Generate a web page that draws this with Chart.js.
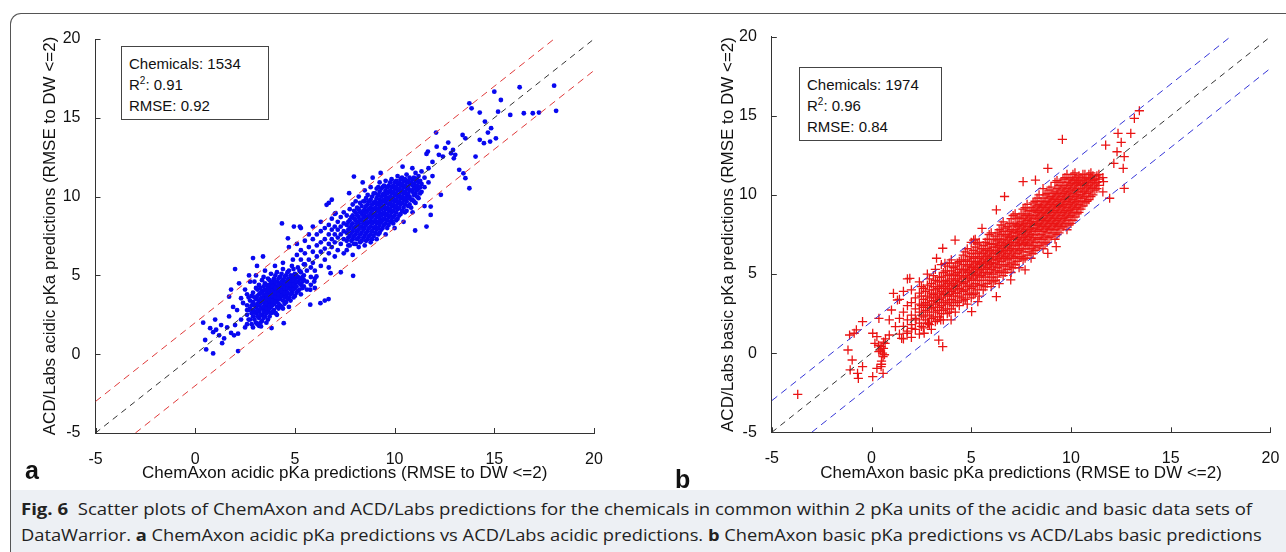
<!DOCTYPE html>
<html>
<head>
<meta charset="utf-8">
<script src="https://cdn.jsdelivr.net/npm/chart.js@4.4.1/dist/chart.umd.min.js"></script>
<style>
  html, body { margin: 0; padding: 0; background: #fff; }
  body { width: 1286px; height: 552px; position: relative; overflow: hidden; font-family: "Liberation Sans", Arial, sans-serif; color: #111; }
  .frame { position: absolute; left: 10px; top: 13px; width: 1300px; height: 600px; border-left: 1px solid #555; border-top: 1px solid #555; border-top-left-radius: 11px; }
  .capbg { position: absolute; left: 11px; top: 490px; right: 0; bottom: 0; background: #edf0f4; }
  .plot { position: absolute; top: 0; }
  .stat { position: absolute; border: 1px solid #444; background: #fff; font-size: 15px; line-height: 21px; padding: 6px 0 0 7px; box-sizing: border-box; }
  .stat sup { font-size: 10px; line-height: 0; vertical-align: 6px; }
  .panel { position: absolute; font-weight: bold; font-size: 25px; line-height: 1; }
  .cap { position: absolute; left: 21px; white-space: nowrap; font-family: "Open Sans", "Noto Sans", sans-serif; font-size: 16px; transform-origin: 0 0; color: #222; }
</style>
</head>
<body>
<div class="frame"></div>
<div class="capbg"></div>
<div class="plot" style="left:0"><canvas id="acid" width="640" height="488"></canvas></div>
<div class="plot" style="left:640px"><canvas id="basic" width="646" height="488"></canvas></div>
<div class="stat" style="left:121px;top:46px;width:148px;height:74px">Chemicals: 1534<br>R<sup>2</sup>: 0.91<br>RMSE: 0.92</div>
<div class="stat" style="left:799px;top:67px;width:143px;height:74px">Chemicals: 1974<br>R<sup>2</sup>: 0.96<br>RMSE: 0.84</div>
<div class="panel" style="left:25px;top:458px">a</div>
<div class="panel" style="left:675px;top:467px">b</div>
<div class="cap" style="top:498px" data-w="1231"><b>Fig. 6</b>&nbsp; Scatter plots of ChemAxon and ACD/Labs predictions for the chemicals in common within 2 pKa units of the acidic and basic data sets of</div>
<div class="cap" style="top:524px" data-w="1241">DataWarrior. <b>a</b> ChemAxon acidic pKa predictions vs ACD/Labs acidic predictions. <b>b</b> ChemAxon basic pKa predictions vs ACD/Labs basic predictions</div>
<script>
// axis range / ticks
const axisMin = -5, axisMax = 20, tickStep = 5;

// reference lines: identity and +/-2 pKa units
const identityLine = [[-5, -5], [20, 20]];
const upperLine = [[-5, -3], [18, 20]];
const lowerLine = [[-3, -5], [20, 18]];

// ---- acidic set (a): points ----
const acidLow = [
  [0.4,2.0],[0.5,0.9],[0.55,0.3],[0.9,0.05],[0.75,1.65],[1.05,1.55],[1.3,1.85],[1.35,0.7],[1.45,1.0],
  [1.7,2.4],[1.8,1.35],[2.0,1.85],[2.1,2.8],[2.15,1.3],[1.95,1.2],[2.0,5.4],[1.8,4.1],[2.2,4.5],
  [2.3,3.55],[2.5,4.1],[2.4,3.25],[2.6,2.8],[2.15,0.2],[1.7,3.65],[1.9,3.0],[1.2,1.2],[1.6,1.7],
  [0.9,1.4],[2.3,2.2],[2.5,1.7],[1.0,2.2],[3.3,1.76],[3.83,1.66],[4.44,1.97],[4.03,2.61],
  [2.9,6.1],[3.4,6.2],[3.1,5.6],[3.5,5.3],[2.7,5.0],[4.0,5.6],[4.4,5.8]
];
// columns: first value is x, the rest are y values at that x
const acidCols = [
  [2.6,1.9,2.5,3.1,3.8],[2.75,2.2,2.9,3.4,4.6],[2.9,1.7,2.4,2.8,3.3,3.9],[3.05,2.0,2.6,3.0,3.5,4.2,5.0],
  [3.2,1.8,2.3,2.7,3.1,3.4,3.8,4.4],[3.35,2.1,2.5,2.9,3.3,3.6,4.0,4.7],[3.5,2.4,2.8,3.1,3.4,3.7,4.1,4.5],
  [3.65,2.2,2.7,3.0,3.3,3.6,3.9,4.2,4.8],[3.8,2.6,3.0,3.3,3.6,3.9,4.2,4.5,5.1],[3.95,2.8,3.2,3.5,3.8,4.1,4.4,4.8],
  [4.1,2.5,3.0,3.4,3.7,4.0,4.3,4.6,5.2],[4.25,3.1,3.5,3.9,4.2,4.5,4.9],[4.4,2.9,3.4,3.8,4.1,4.4,4.7,5.4],
  [4.55,3.3,3.7,4.0,4.3,4.6,5.0],[4.7,3.0,3.6,4.2,4.5,4.8,5.3],[4.85,3.9,4.3,4.6,4.9,5.6],[5.0,3.7,4.2,4.5,4.8,5.1],
  [5.15,4.0,4.6,4.9,5.5],[5.3,3.8,4.4,4.8,5.2],[5.45,4.3,4.7,5.0,5.7],[5.6,4.1,4.6,5.3],[5.8,4.4,4.9,5.5],[6.0,4.2,4.8,5.3],
  [5.1,6.3,7.0],[5.3,6.0,6.6,8.0],[5.5,5.7,6.4,7.2],[5.7,6.0,6.8,7.6],[5.9,5.8,6.5,7.3,8.1],[6.1,6.2,6.9,7.6],
  [6.3,5.6,6.5,7.1,7.8,8.4],[6.5,6.0,6.7,7.3,8.0],[6.7,5.5,6.4,7.0,7.6,8.2,9.6],[6.85,6.8,7.3,7.9,8.6,9.8],
  [7.0,6.2,7.1,7.6,8.1,8.9],[7.15,6.6,7.4,7.9,8.4],[7.3,5.2,7.0,7.6,8.1,8.7],[7.45,6.4,7.3,7.8,8.3,9.0],
  [7.6,6.6,7.2,7.7,8.2,8.8],[7.75,6.9,7.5,8.0,8.5,9.2],[7.9,6.3,7.3,7.8,8.3,8.8,9.5],[8.05,7.0,7.6,8.1,8.5,9.0,9.7],
  [8.2,6.8,7.4,7.9,8.3,8.7,9.2,10.0],[8.35,7.2,7.7,8.1,8.5,8.9,9.4],[8.5,6.9,7.5,8.0,8.4,8.8,9.2,9.7,10.4],
  [8.65,7.3,7.8,8.3,8.7,9.1,9.5,10.1],[8.8,7.1,7.6,8.1,8.5,8.9,9.3,9.8,10.6],[8.95,7.5,8.0,8.4,8.8,9.2,9.6,10.2],
  [9.1,7.3,7.9,8.3,8.7,9.1,9.5,9.9,10.5],[9.25,7.7,8.2,8.6,9.0,9.4,9.8,10.3,10.9],[9.4,8.0,8.5,8.9,9.3,9.7,10.1,10.6],
  [9.55,7.6,8.3,8.8,9.2,9.6,10.0,10.4,11.0],[9.7,8.2,8.7,9.1,9.5,9.9,10.3,10.7],[9.85,8.5,9.0,9.4,9.8,10.2,10.6,11.1],
  [10.0,8.0,8.8,9.3,9.7,10.1,10.5,10.9],[10.15,8.6,9.2,9.6,10.0,10.4,10.8,11.3],[10.3,8.9,9.5,9.9,10.3,10.7,11.1],
  [10.45,8.4,9.3,9.8,10.2,10.6,11.0],[10.6,9.1,9.7,10.1,10.5,10.9,11.4],[10.75,9.5,10.0,10.4,10.8,11.2],
  [10.9,9.0,9.8,10.3,10.7,11.1],[11.05,9.6,10.2,10.6,11.0,11.5],[11.2,9.9,10.5,10.9,11.3],[11.35,10.3,10.8,11.6],
  [11.5,9.4,10.6,11.2],[11.7,10.9,11.8],[11.9,11.3,12.2]
];
// extra, offset columns filling the two dense clusters
const acidColsDense = [
  [2.68,2.2,2.8,3.6],[2.83,1.9,2.6,3.1,3.7],[2.97,2.2,2.7,3.1,3.6,4.6],[3.12,1.9,2.4,2.8,3.2,3.7,4.1],
  [3.27,2.0,2.5,2.9,3.2,3.5,3.9,4.2],[3.43,2.3,2.7,3.0,3.3,3.5,3.8,4.3,4.9],[3.57,2.0,2.6,2.9,3.2,3.5,3.8,4.0,4.4],
  [3.73,2.4,2.9,3.1,3.4,3.7,4.0,4.4,4.7],[3.87,2.7,3.1,3.4,3.7,4.0,4.3,4.6],[4.02,2.6,3.3,3.6,3.9,4.2,4.6,5.0],
  [4.18,2.9,3.2,3.6,3.8,4.1,4.4,4.8],[4.33,3.0,3.7,4.0,4.3,4.6,5.1],[4.48,3.2,3.6,3.9,4.2,4.5,4.9],
  [4.63,3.5,3.9,4.2,4.4,4.7,5.2],[4.78,3.4,3.8,4.1,4.4,4.7,5.0],[4.93,3.6,4.1,4.4,4.7,5.0,5.4],
  [5.08,3.9,4.3,4.6,5.0],[5.23,4.1,4.5,4.8,5.3],[5.38,4.2,4.6,4.9],
  [7.68,6.9,7.4,7.9,8.4],[7.83,7.2,7.7,8.2,8.7],[7.97,7.0,7.5,8.0,8.6,9.1],[8.12,7.3,7.8,8.3,8.8,9.3],
  [8.27,7.1,7.6,8.1,8.5,9.0,9.6],[8.43,7.4,7.9,8.3,8.7,9.1,9.7],[8.57,7.2,7.7,8.2,8.6,9.0,9.4,9.9],
  [8.72,7.5,8.0,8.4,8.8,9.2,9.7],[8.87,7.3,7.8,8.3,8.7,9.1,9.5,10.0],[9.03,7.7,8.1,8.5,8.9,9.3,9.7,10.2],
  [9.18,7.6,8.0,8.4,8.8,9.2,9.6,10.1,10.6],[9.33,7.9,8.4,8.8,9.2,9.6,10.0,10.5],[9.47,8.2,8.6,9.0,9.4,9.8,10.2,10.7],
  [9.63,8.0,8.5,8.9,9.3,9.8,10.2,10.6],[9.78,8.4,8.8,9.2,9.6,10.0,10.4,10.9],[9.93,8.3,8.7,9.1,9.5,9.9,10.3,10.7],
  [10.08,8.5,9.0,9.4,9.8,10.2,10.6,11.0],[10.23,8.8,9.3,9.7,10.1,10.5,10.9],[10.37,9.1,9.6,10.0,10.4,10.8,11.2],
  [10.52,9.0,9.5,9.9,10.3,10.7,11.1],[10.68,9.4,9.9,10.2,10.6,11.0],[10.83,9.3,9.8,10.4,10.9],
  [10.97,9.7,10.1,10.5,10.8,11.2],[11.12,10.0,10.4,10.7,11.1],[11.28,10.2,10.6,11.0]
];
const acidMid = [
  [4.35,8.3],[4.95,8.1],[5.25,8.1],[4.65,7.35],[4.7,6.8],[4.9,6.0],[5.77,4.09],[5.97,4.61],[6.08,4.93],
  [5.77,3.14],[6.28,3.24],[6.69,3.5],[6.5,3.4],[7.92,4.97],[6.79,5.14],[7.04,8.95],[6.59,9.48],[7.72,10.22],[7.96,11.27],
  [11.03,7.85],[11.6,8.1],[11.81,8.84],[11.81,9.37],[12.32,10.11],[10.89,11.8],[10.4,11.9],[9.3,11.5],[8.4,10.9],[8.9,11.2]
];
const acidHigh = [
  [15.0,16.66],[15.33,16.13],[16.27,16.94],[18.0,17.04],[18.1,15.44],[16.48,15.29],[16.93,15.29],[17.24,15.33],
  [15.8,15.18],[13.75,15.92],[13.86,15.6],[14.27,15.33],[15.19,15.39],[14.53,14.76],[14.84,14.34],[14.68,14.06],
  [14.27,13.6],[14.48,13.39],[14.79,13.49],[15.08,13.7],[13.41,13.91],[13.55,13.7],[12.69,13.43],[12.53,13.07],
  [12.93,12.96],[12.83,12.75],[13.04,12.65],[12.97,12.43],[12.42,12.54],[12.22,12.65],[11.67,12.86],[11.6,12.71],
  [12.11,13.17],[13.24,11.7],[13.45,11.48],[14.06,12.54],[13.75,10.53],[13.55,11.17],[12.08,14.06]
];

// ---- basic set (b) ----
const basicLow = [
  [-3.7,-2.6],[-0.87,1.26],[-0.76,1.47],[-1.18,0.2],[-0.97,-0.43],[-1.07,-1.06],[-0.66,-1.59],[-0.7,-1.27],
  [-0.45,-0.85],[0.06,-1.48],[0.27,-0.96],[0.58,-1.27],[0.48,-0.85],[0.58,-0.22],[0.37,0.1],[0.48,0.41],
  [0.68,0.62],[0.17,0.62],[0.27,1.05],[0.89,1.15],[1.2,1.68],[0.89,2.1],[0.37,2.2],[0.06,1.26],[1.0,2.73],
  [1.1,3.78],[1.3,3.36],[1.51,0.94],[1.78,1.26],[2.02,1.57],[2.23,2.1],[2.64,1.26],[2.85,1.89],[3.57,0.41],
  [3.37,0.83],[3.99,2.1],[3.47,2.1],[3.57,6.63],[3.26,6.0],[4.19,7.15],[3.68,5.68],[1.92,4.73],
  [0.5,-0.5],[0.55,0.0],[0.6,0.3],[0.45,0.2],[0.65,-0.1],[0.7,0.9],[0.35,0.5],[0.5,-0.7],[0.6,0.7],
  [-0.45,2.0],[-1.1,1.15]
];
const basicCols = [
  [1.4,1.2,2.2,3.4],[1.6,0.9,1.7,2.6,3.9],[1.8,1.4,2.1,3.0,4.7],[2.0,1.0,1.8,2.4,3.2,4.0],[2.2,1.5,2.2,2.8,3.5],
  [2.4,1.2,1.9,2.6,3.1,3.8,4.5],[2.6,1.6,2.3,2.9,3.4,4.1],[2.8,1.9,2.6,3.1,3.6,4.3,5.0],[3.0,1.5,2.2,2.8,3.3,3.8,4.4],
  [3.2,2.0,2.6,3.1,3.5,4.0,4.6,5.3],[3.4,2.3,2.9,3.4,3.8,4.2,4.8],[3.6,2.1,2.7,3.2,3.7,4.1,4.5,5.1],
  [3.8,2.5,3.1,3.6,4.0,4.4,4.9,5.5],[4.0,2.8,3.4,3.9,4.3,4.7,5.2,5.9],[4.2,2.6,3.3,3.8,4.2,4.6,5.0,5.5],
  [4.4,3.0,3.6,4.1,4.5,4.9,5.3,5.8],[4.6,3.3,3.9,4.4,4.8,5.2,5.6,6.2],[4.8,3.1,3.7,4.2,4.7,5.1,5.5,5.9,6.6],
  [5.0,3.5,4.1,4.6,5.0,5.4,5.8,6.3,7.0],[5.2,3.8,4.4,4.9,5.3,5.7,6.1,6.7,7.2],[5.4,3.6,4.3,4.8,5.2,5.6,6.0,6.4,7.0],
  [5.6,4.0,4.6,5.1,5.5,5.9,6.3,6.8],[5.8,4.4,5.0,5.4,5.8,6.2,6.6,7.2],[6.0,4.2,4.8,5.3,5.7,6.1,6.5,6.9,7.6],
  [6.2,4.6,5.2,5.7,6.1,6.5,6.9,7.4],[6.4,4.4,5.1,5.6,6.0,6.4,6.8,7.2,7.8],[6.6,4.9,5.5,6.0,6.4,6.8,7.2,7.7,8.3],
  [6.8,5.3,5.9,6.3,6.7,7.1,7.5,8.0],[7.0,5.1,5.7,6.2,6.6,7.0,7.4,7.8,8.5],[7.2,5.6,6.1,6.6,7.0,7.4,7.8,8.2,8.8],
  [7.4,5.4,6.0,6.5,6.9,7.3,7.7,8.1,8.6],[7.6,5.9,6.4,6.9,7.3,7.7,8.1,8.5,9.1],[7.8,6.2,6.8,7.2,7.6,8.0,8.4,8.8,9.4],
  [8.0,6.0,6.6,7.1,7.5,7.9,8.3,8.7,9.2],[8.2,6.5,7.0,7.5,7.9,8.3,8.7,9.1,9.6],[8.4,6.8,7.3,7.8,8.2,8.6,9.0,9.4,10.0],
  [8.6,6.6,7.2,7.7,8.1,8.5,8.9,9.3,9.8,10.4],[8.8,7.0,7.6,8.0,8.4,8.8,9.2,9.6,10.1],[9.0,7.4,7.9,8.3,8.7,9.1,9.5,9.9,10.5],
  [9.2,7.2,7.8,8.2,8.6,9.0,9.4,9.8,10.2,10.8],[9.4,7.6,8.1,8.5,8.9,9.3,9.7,10.1,10.6],[9.6,8.0,8.5,8.9,9.3,9.7,10.1,10.5,11.0],
  [9.8,7.8,8.4,8.8,9.2,9.6,10.0,10.4,10.8,11.3],[10.0,8.2,8.7,9.1,9.5,9.9,10.3,10.7,11.1],[10.2,8.6,9.1,9.5,9.9,10.3,10.7,11.0,11.4],
  [10.4,8.9,9.4,9.8,10.2,10.6,10.9,11.2],[10.6,9.3,9.8,10.2,10.6,10.9,11.3],[10.8,9.6,10.1,10.5,10.8,11.1],
  [11.0,9.9,10.4,10.8,11.1,11.4],[11.2,10.3,10.7,11.0],[11.4,10.6,11.0,11.3],[11.6,10.2,11.1]
];
const basicColsDense = [
  [2.5,1.7,2.4,3.0,3.6,4.2],[2.7,2.1,2.7,3.2,3.9],[2.9,1.8,2.4,3.0,3.5,4.0,4.7],[3.1,2.3,2.9,3.3,3.7,4.2,4.9],
  [3.3,2.1,2.7,3.2,3.6,4.1,4.5],[3.5,2.5,3.0,3.5,3.9,4.3,4.8,5.6],[3.7,2.8,3.3,3.8,4.2,4.6,5.2],
  [3.9,2.6,3.2,3.7,4.1,4.5,5.0,5.7],[4.1,3.0,3.6,4.0,4.4,4.9,5.4],[4.3,3.2,3.8,4.3,4.7,5.1,5.7],
  [4.5,3.5,4.0,4.5,4.9,5.3,5.9],[4.7,3.4,4.0,4.5,4.9,5.3,5.8,6.4],[4.9,3.8,4.3,4.8,5.2,5.6,6.1],
  [5.1,3.7,4.2,4.7,5.1,5.5,6.0,6.5],[5.3,4.0,4.6,5.0,5.4,5.8,6.3,6.9],[5.5,4.3,4.9,5.3,5.7,6.1,6.6],
  [5.7,4.2,4.8,5.3,5.7,6.1,6.5,7.0],[5.9,4.6,5.1,5.6,6.0,6.4,6.9,7.5],[6.1,4.5,5.0,5.5,5.9,6.3,6.7,7.2],
  [6.3,4.8,5.4,5.9,6.3,6.7,7.1,7.6],[6.5,5.2,5.8,6.2,6.6,7.0,7.5,8.1],[6.7,5.1,5.6,6.1,6.5,6.9,7.4,7.9],
  [6.9,5.5,6.0,6.5,6.9,7.3,7.7,8.2],[7.1,5.4,6.0,6.4,6.8,7.2,7.6,8.1,8.7],[7.3,5.8,6.3,6.8,7.2,7.6,8.0,8.5],
  [7.5,6.1,6.6,7.1,7.5,7.9,8.3,8.8],[7.7,6.0,6.6,7.0,7.4,7.8,8.2,8.7,9.2],[7.9,6.4,6.9,7.4,7.8,8.2,8.6,9.0],
  [8.1,6.3,6.8,7.3,7.7,8.1,8.5,9.0,9.5],[8.3,6.7,7.2,7.7,8.1,8.5,8.9,9.3,9.8],[8.5,7.0,7.5,8.0,8.4,8.8,9.2,9.6],
  [8.7,6.9,7.4,7.9,8.3,8.7,9.1,9.5,10.0],[8.9,7.3,7.8,8.2,8.6,9.0,9.4,9.8,10.3],[9.1,7.6,8.1,8.5,8.9,9.3,9.7,10.1],
  [9.3,7.5,8.0,8.4,8.8,9.2,9.6,10.0,10.4,10.9],[9.5,7.9,8.3,8.7,9.1,9.5,9.9,10.3,10.8],[9.7,8.2,8.6,9.0,9.4,9.8,10.2,10.6,11.1],
  [9.9,8.1,8.6,9.0,9.4,9.8,10.2,10.6,11.0],[10.1,8.4,8.9,9.3,9.7,10.1,10.5,10.9,11.3],[10.3,8.8,9.2,9.6,10.0,10.4,10.8,11.1],
  [10.5,9.1,9.6,10.0,10.4,10.7,11.1],[10.7,9.5,9.9,10.3,10.7,11.0,11.3],[10.9,9.7,10.2,10.6,11.0,11.3],
  [11.1,10.0,10.5,10.9,11.2],[11.3,10.4,10.8,11.2]
];
const basicHigh = [
  [9.57,13.51],[13.43,15.32],[13.18,14.84],[13.0,13.89],[12.36,13.89],[12.52,13.32],[11.74,13.15],[12.31,12.73],
  [12.67,12.42],[12.15,12.0],[12.62,11.68],[12.67,10.42],[11.94,9.79],[11.63,10.84],
  [7.6,10.84],[8.22,10.94],[8.84,11.68],[6.67,9.9],[6.26,9.05],[5.54,7.89],[5.12,7.15],
  [6.98,4.63],[7.7,5.26],[6.26,3.57],[5.33,3.26],[5.02,2.63],[8.84,6.31],[9.26,6.73]
];

function pairs(list) { return list.map(([x, y]) => ({ x, y })); }
function cols(list) {
  const pts = [];
  for (const [x, ...ys] of list) for (const y of ys) pts.push({ x, y });
  return pts;
}

const FONT = '"Liberation Sans", Arial, sans-serif';

// MATLAB-style inward tick marks
const inTicks = {
  id: 'inTicks',
  afterDraw(chart) {
    const { ctx, chartArea: a, scales: { x, y } } = chart;
    ctx.save();
    ctx.strokeStyle = '#333'; ctx.lineWidth = 1;
    ctx.beginPath();
    for (let v = axisMin; v <= axisMax; v += tickStep) {
      const px = Math.round(x.getPixelForValue(v)) + 0.5;
      ctx.moveTo(px, a.bottom); ctx.lineTo(px, a.bottom - 5);
      const py = Math.round(y.getPixelForValue(v)) + 0.5;
      ctx.moveTo(a.left, py); ctx.lineTo(a.left + 5, py);
    }
    ctx.stroke();
    ctx.restore();
  }
};

function lineSet(pts, color, dash) {
  return { type: 'line', data: pairs(pts), borderColor: color, borderWidth: 1, borderDash: dash,
           pointRadius: 0, fill: false, order: 0 };
}

function makePlot(id, o) {
  new Chart(document.getElementById(id), {
    type: 'scatter',
    data: {
      datasets: [
        lineSet(identityLine, '#333', [6, 5]),
        lineSet(upperLine, o.bandColor, [7, 5]),
        lineSet(lowerLine, o.bandColor, [7, 5]),
        Object.assign({ data: o.points, order: 1 }, o.marker)
      ]
    },
    options: {
      responsive: false, animation: false, events: [],
      layout: { padding: o.pad },
      plugins: { legend: { display: false }, tooltip: { enabled: false } },
      scales: {
        x: {
          type: 'linear', min: axisMin, max: axisMax,
          ticks: { stepSize: tickStep, color: '#111', font: { family: FONT, size: 16 }, padding: 9, maxRotation: 0 },
          grid: { display: false }, border: { display: true, color: '#333', width: 1 },
          title: { display: true, text: o.xTitle, color: '#111', font: { family: FONT, size: 17 }, padding: { top: 0, bottom: 4 } },
          afterFit: s => { s.height = o.xH; s.paddingLeft = 0; s.paddingRight = 0; }
        },
        y: {
          type: 'linear', min: axisMin, max: axisMax,
          ticks: { stepSize: tickStep, color: '#111', font: { family: FONT, size: 16 }, padding: 7 },
          grid: { display: false }, border: { display: true, color: '#333', width: 1 },
          title: { display: true, text: o.yTitle, color: '#111', font: { family: FONT, size: 17 }, padding: 0 },
          afterFit: s => { s.width = o.yW; s.paddingTop = 0; s.paddingBottom = 0; }
        }
      }
    },
    plugins: [inTicks]
  });
}

makePlot('acid', {
  points: pairs(acidLow).concat(cols(acidCols), cols(acidColsDense), pairs(acidMid), pairs(acidHigh)),
  marker: { pointRadius: 2.4, pointBackgroundColor: '#0808f0', pointBorderWidth: 0, pointStyle: 'circle' },
  bandColor: '#e03a3a',
  xTitle: 'ChemAxon acidic pKa predictions (RMSE to DW <=2)',
  yTitle: 'ACD/Labs acidic pKa predictions (RMSE to DW <=2)',
  pad: { left: 40, top: 39, right: 46, bottom: 0 }, yW: 55.5, xH: 55
});

makePlot('basic', {
  points: pairs(basicLow).concat(cols(basicCols), cols(basicColsDense), pairs(basicHigh)),
  marker: { pointRadius: 4.6, pointStyle: 'cross', pointBorderColor: '#ea1414', pointBorderWidth: 1.3, pointBackgroundColor: 'rgba(0,0,0,0)' },
  bandColor: '#3535d8',
  xTitle: 'ChemAxon basic pKa predictions (RMSE to DW <=2)',
  yTitle: 'ACD/Labs basic pKa predictions (RMSE to DW <=2)',
  pad: { left: 78, top: 36.7, right: 15.6, bottom: 0 }, yW: 53.8, xH: 55.7
});

// stretch caption lines to the measured widths
for (const el of document.querySelectorAll('.cap')) {
  const k = Number(el.dataset.w) / el.offsetWidth;
  el.style.transform = 'scaleX(' + k + ')';
}
</script>
</body>
</html>
